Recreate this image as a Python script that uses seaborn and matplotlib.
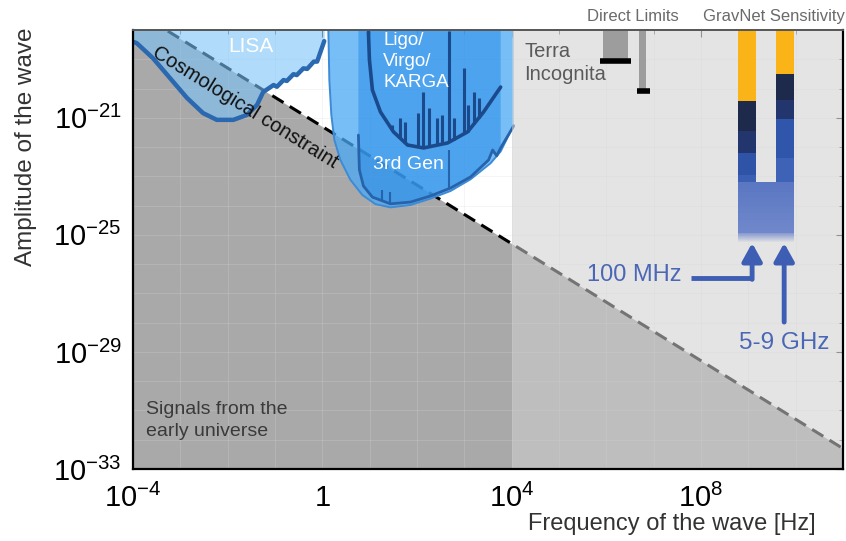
import numpy as np
import pandas as pd
import matplotlib
matplotlib.use("Agg")
import matplotlib.pyplot as plt
import matplotlib.transforms as mtransforms
import seaborn as sns

# ---------------------------------------------------------------
# Data: log10(frequency / Hz) and log10(strain amplitude)
# ---------------------------------------------------------------
# cosmological constraint (h ~ 1/f)
cosmo_logf = [-4.0, 11.0]
cosmo_logh = [-17.3, -32.3]

terra_logf = 4.0

# LISA sensitivity curve
lisa_logf = [-4.00, -3.92, -3.58, -3.22, -2.86, -2.52, -2.23, -1.88, -1.59, -1.38,
             -1.25, -1.03, -0.96, -0.82, -0.75, -0.61, -0.54, -0.40, -0.32, -0.18,
             -0.11, 0.04]
lisa_logh = [-18.40, -18.45, -18.96, -19.64, -20.32, -20.84, -21.07, -21.07, -20.90, -20.56,
             -20.12, -19.88, -19.94, -19.71, -19.74, -19.51, -19.54, -19.31, -19.33, -19.08,
             -19.08, -18.38]

# outer envelope of the ground-based detector band
outer_logf = [0.127, 0.148, 0.190, 0.254, 0.381, 0.593, 0.847, 1.122, 1.439, 1.862,
              2.286, 2.709, 3.132, 3.556, 3.767, 4.042]
outer_logh = [-18.00, -19.71, -20.90, -21.76, -22.44, -23.12, -23.64, -23.95, -24.06, -23.98,
              -23.76, -23.50, -23.10, -22.55, -22.15, -21.25]

# 3rd generation detectors
gen3_logf = [0.762, 0.783, 0.868, 1.058, 1.439, 1.862, 2.286, 2.709, 3.132, 3.513,
             3.598, 3.683, 3.767, 4.042]
gen3_logh = [-21.59, -22.78, -23.33, -23.71, -23.94, -23.88, -23.67, -23.40, -23.02, -22.44,
             -22.10, -22.30, -22.03, -21.28]
gen3_spike_logf = [1.25, 1.42, 2.667]
gen3_spike_logh = [-23.45, -23.55, -22.10]

# Ligo / Virgo / KAGRA
ligo_logf = [0.974, 0.995, 1.058, 1.228, 1.503, 1.799, 2.138, 2.646, 3.069, 3.407, 3.767]
ligo_logh = [-18.07, -19.02, -20.05, -20.80, -21.48, -21.93, -22.03, -21.86, -21.48, -20.80, -19.95]
ligo_spike_logf = [1.481, 1.651, 1.757, 2.011, 2.117, 2.244, 2.413, 2.519, 2.667, 2.773,
                   2.984, 3.069, 3.196, 3.302]
ligo_spike_logh = [-21.25, -21.01, -21.14, -20.84, -20.12, -20.66, -21.01, -20.90, -18.05, -21.01,
                   -19.30, -20.56, -20.12, -20.32]

# direct limits: (f_lo, f_hi, h_limit)
direct_logf = [(5.93, 6.45), (6.69, 6.84)]
direct_cap_logf = [(5.86, 6.52), (6.65, 6.92)]
direct_logh = [-19.05, -20.08]

# GravNet sensitivity columns
gn_left_logf = (8.78, 9.16)
gn_right_logf = (9.59, 9.97)
gn_left_edges = [-18.0, -20.43, -21.45, -22.20, -22.95, -23.19]
gn_right_edges = [-18.0, -19.50, -20.39, -21.04, -22.37, -23.19]
gn_left_colors = ["#fbb417", "#1e2a4c", "#22356d", "#2f53a6", "#3b5fb3"]
gn_right_colors = ["#fbb417", "#1e2a4c", "#22356d", "#2f56ab", "#3d62b6"]
gn_block_logh = (-23.19, -24.95)
gn_fade_logh = -25.25

# arrows to the two GravNet bands
arrow_mhz_logf = (7.79, 9.08)
arrow_ghz_logf = 9.757
arrow_mhz_logh = -26.47
arrow_ghz_logh = -27.98
arrow_tip_logh = -25.28

xtick_logf = [-4, 0, 4, 8]
xtick_labels = [r"$\mathregular{10^{-4}}$", "1", r"$\mathregular{10^{4}}$", r"$\mathregular{10^{8}}$"]
ytick_logh = [-33, -29, -25, -21]
ytick_labels = [r"$\mathregular{10^{-33}}$", r"$\mathregular{10^{-29}}$",
                r"$\mathregular{10^{-25}}$", r"$\mathregular{10^{-21}}$"]


def P(a):
    return 10.0 ** np.asarray(a, dtype=float)


# ---------------------------------------------------------------
sns.set_theme(style="white")
plt.rcParams["font.family"] = ["Liberation Sans", "DejaVu Sans"]
plt.rcParams["mathtext.fontset"] = "custom"
plt.rcParams["mathtext.rm"] = "Liberation Sans"
plt.rcParams["mathtext.it"] = "Liberation Sans:italic"
plt.rcParams["mathtext.bf"] = "Liberation Sans:bold"

W, H = 846, 541
fig = plt.figure(figsize=(W / 100, H / 100), dpi=100)
ax = fig.add_axes([133 / W, 1 - 469 / H, 710 / W, 439 / H])
ax.set_xscale("log")
ax.set_yscale("log")
XMIN, XMAX, YMIN, YMAX = 1e-4, 1e11, 1e-33, 1e-18
ax.set_xlim(XMIN, XMAX)
ax.set_ylim(YMIN, YMAX)
ax.set_facecolor("white")

# early-universe region below the cosmological constraint
ax.fill_between(P(cosmo_logf), YMIN, P(cosmo_logh), color="#a9a9a9", lw=0, zorder=1)

# faint decade grid
ax.set_axisbelow("line")
ax.xaxis.set_minor_locator(matplotlib.ticker.LogLocator(base=10, numticks=30))
ax.yaxis.set_minor_locator(matplotlib.ticker.LogLocator(base=10, numticks=30))
ax.xaxis.set_minor_formatter(matplotlib.ticker.NullFormatter())
ax.yaxis.set_minor_formatter(matplotlib.ticker.NullFormatter())
ax.grid(True, which="both", color="#d8d8d8", lw=0.7, alpha=0.25)

# cosmological constraint line
ax.plot(P(cosmo_logf), P(cosmo_logh), color="black", lw=2.2,
        linestyle=(0, (4.3, 2.4)), zorder=2)

# LISA
ax.fill_between(P(lisa_logf), P(lisa_logh), YMAX, color="#7cc3f7", alpha=0.6, lw=0, zorder=3)
lisa_df = pd.DataFrame({"f": P(lisa_logf), "h": P(lisa_logh)})
sns.lineplot(data=lisa_df, x="f", y="h", ax=ax, color="#2a68b0", lw=3.2,
             sort=False, estimator=None, zorder=4)

# ground-based detector band (outer envelope)
ox = list(outer_logf) + [outer_logf[-1]]
oy = list(outer_logh) + [-18.0]
ax.fill(P(ox), P(oy), color="#4aa8f5", alpha=0.75, lw=0, zorder=3)
outer_df = pd.DataFrame({"f": P(outer_logf), "h": P(outer_logh)})
sns.lineplot(data=outer_df, x="f", y="h", ax=ax, color="#3d8bd6", lw=1.4,
             sort=False, estimator=None, zorder=4)

# 3rd generation region
g3f = np.asarray(gen3_logf)
g3h = np.asarray(gen3_logh)
inner = g3f <= 3.767
ix = [g3f[0]] + list(g3f[inner]) + [g3f[inner][-1]]
iy = [-18.0] + list(g3h[inner]) + [-18.0]
ax.fill(P(ix), P(iy), color="#2b8de8", alpha=0.55, lw=0, zorder=3.2)
gen3_df = pd.DataFrame({"f": P(gen3_logf), "h": P(gen3_logh)})
sns.lineplot(data=gen3_df, x="f", y="h", ax=ax, color="#2763ab", lw=2,
             sort=False, estimator=None, zorder=4)
ax.vlines(P(gen3_spike_logf), P(np.interp(gen3_spike_logf, gen3_logf, gen3_logh)),
          P(gen3_spike_logh), color="#2763ab", lw=1.5, zorder=4)

# Ligo / Virgo / KAGRA
ligo_df = pd.DataFrame({"f": P(ligo_logf), "h": P(ligo_logh)})
sns.lineplot(data=ligo_df, x="f", y="h", ax=ax, color="#1b4a8c", lw=2.6,
             sort=False, estimator=None, zorder=4.5)
ax.vlines(P(ligo_spike_logf), P(np.interp(ligo_spike_logf, ligo_logf, ligo_logh)),
          P(ligo_spike_logh), color="#1b4a8c", lw=2.2, zorder=4.5)

# Terra Incognita veil
ax.axvspan(P(terra_logf), XMAX, color="#d0d0d0", alpha=0.56, lw=0, zorder=5)

# direct limits
for (f0, f1), (c0, c1), h in zip(direct_logf, direct_cap_logf, direct_logh):
    ax.fill_between(P([f0, f1]), P(h), YMAX, color="#9d9d9d", lw=0, zorder=6)
    ax.hlines(P(h), P(c0), P(c1), color="black", lw=4, zorder=6.5)

# GravNet sensitivity columns
for (f0, f1), edges, cols in ((gn_left_logf, gn_left_edges, gn_left_colors),
                              (gn_right_logf, gn_right_edges, gn_right_colors)):
    for top, bot, c in zip(edges[:-1], edges[1:], cols):
        ax.fill_between(P([f0, f1]), P(bot), P(top), color=c, lw=0, zorder=6)

b_top, b_bot = gn_block_logh
band_edges = np.linspace(b_top, b_bot, 16)
band_cols = sns.blend_palette(["#5b77c2", "#7088cb"], n_colors=len(band_edges) - 1)
for top, bot, c in zip(band_edges[:-1], band_edges[1:], band_cols):
    ax.fill_between(P([gn_left_logf[0], gn_right_logf[1]]), P(bot), P(top),
                    color=c, lw=0, zorder=6)
fade_edges = np.linspace(b_bot, gn_fade_logh, 10)
for k, (top, bot) in enumerate(zip(fade_edges[:-1], fade_edges[1:])):
    ax.fill_between(P([gn_left_logf[0], gn_right_logf[1]]), P(bot), P(top),
                    color="#7088cb", alpha=0.85 * (1 - (k + 1) / 10), lw=0, zorder=6)

# arrows
acol = "#3e5eb3"
ax.plot(P([arrow_mhz_logf[0], arrow_mhz_logf[1]]), P([arrow_mhz_logh, arrow_mhz_logh]),
        color=acol, lw=3.5, solid_capstyle="butt", zorder=7)
arrow_props = dict(arrowstyle="-|>,head_length=0.9,head_width=0.5", lw=3.5,
                   color=acol, shrinkA=0, shrinkB=0)
ax.annotate("", xy=(P(arrow_mhz_logf[1]), P(arrow_tip_logh)),
            xytext=(P(arrow_mhz_logf[1]), P(arrow_mhz_logh - 0.05)),
            arrowprops=arrow_props, zorder=7)
ax.annotate("", xy=(P(arrow_ghz_logf), P(arrow_tip_logh)),
            xytext=(P(arrow_ghz_logf), P(arrow_ghz_logh)),
            arrowprops=arrow_props, zorder=7)

# labels inside the plot
ax.text(P(-1.52), P(-18.58), "LISA", color="white", fontsize=15,
        ha="center", va="center", zorder=8)
ax.text(P(-1.63), P(-20.63), "Cosmological constraint", color="#111111", fontsize=14.5,
        ha="center", va="center", rotation=-31.8, rotation_mode="anchor", zorder=8)
ax.text(P(1.29), P(-18.08), "Ligo/\nVirgo/\nKARGA", color="white", fontsize=13.5,
        ha="left", va="top", linespacing=1.3, zorder=8)
ax.text(P(1.82), P(-22.61), "3rd Gen", color="white", fontsize=14,
        ha="center", va="center", zorder=8)
ax.text(P(4.27), P(-18.42), "Terra\nIncognita", color="#5a5a5a", fontsize=14.5,
        ha="left", va="top", linespacing=1.25, zorder=8)
ax.text(P(-3.72), P(-30.68), "Signals from the\nearly universe", color="#3a3a3a",
        fontsize=14, ha="left", va="top", linespacing=1.35, zorder=8)
ax.text(P(7.58), P(-26.37), "100 MHz", color="#4a67b6", fontsize=17,
        ha="right", va="center", zorder=8)
ax.text(P(9.757), P(-28.69), "5-9 GHz", color="#4a67b6", fontsize=17.5,
        ha="center", va="center", zorder=8)

blend = mtransforms.blended_transform_factory(ax.transData, ax.transAxes)
ax.text(P(6.56), 1.03, "Direct Limits", transform=blend, color="#6a6a6a",
        fontsize=12, ha="center", va="center")
ax.text(P(9.545), 1.03, "GravNet Sensitivity", transform=blend, color="#6a6a6a",
        fontsize=12, ha="center", va="center")

# axes, ticks, labels
ax.set_xticks(P(xtick_logf))
ax.set_xticklabels(xtick_labels, fontsize=21)
ax.set_yticks(P(ytick_logh))
ax.set_yticklabels(ytick_labels, fontsize=21)
ax.tick_params(axis="both", which="major", direction="in", length=5, width=0.8,
               top=True, right=True, colors="#444444", labelcolor="black")
ax.tick_params(axis="x", which="major", pad=11)
ax.tick_params(axis="y", which="major", pad=8)
ax.tick_params(axis="both", which="minor", direction="in", length=3, width=0.6,
               top=True, right=True, colors="#666666")

ax.set_xlabel("Frequency of the wave [Hz]", fontsize=17, color="#333333")
ax.set_ylabel("Amplitude of the wave", fontsize=17.5, color="#333333")
ax.xaxis.set_label_coords(0.759, -0.1)
ax.yaxis.set_label_coords(-0.135, 0.733)

for side in ("left", "bottom", "right"):
    ax.spines[side].set_color("black")
    ax.spines[side].set_linewidth(1.6)
ax.spines["top"].set_color("#555555")
ax.spines["top"].set_linewidth(1.4)
for s in ax.spines.values():
    s.set_zorder(9)

fig.savefig("out.png", dpi=100)
